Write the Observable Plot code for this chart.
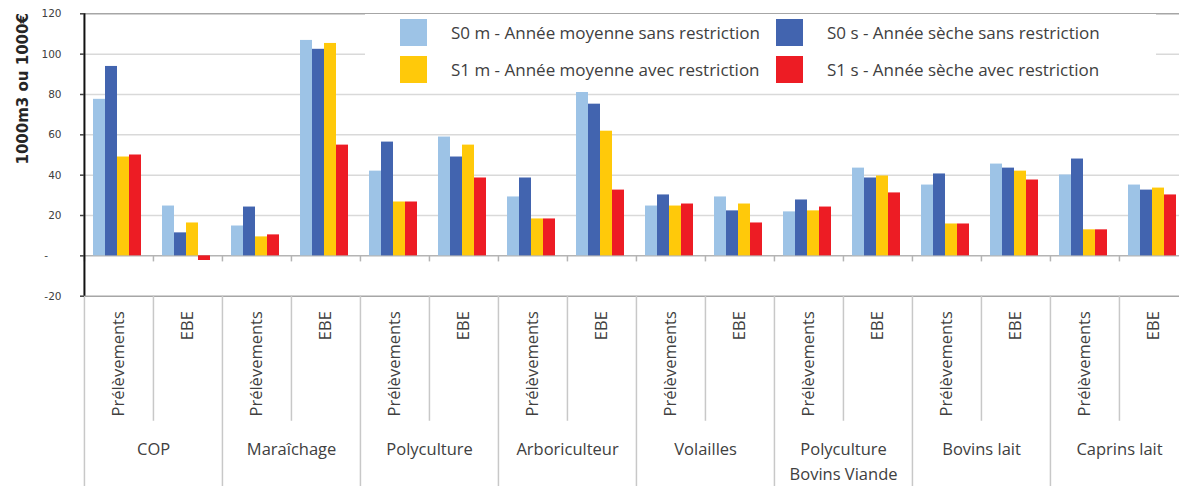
<!DOCTYPE html>
<html><head><meta charset="utf-8">
<script src="https://cdn.jsdelivr.net/npm/d3@7"></script>
<script src="https://cdn.jsdelivr.net/npm/@observablehq/plot@0.6"></script>
<style>
html,body{margin:0;padding:0;background:#fff;overflow:hidden;}
#wrap{position:relative;width:1179px;height:486px;overflow:hidden;}
#chart svg{max-width:none !important;}
#legend{position:absolute;left:365px;top:14px;width:791px;height:78px;background:#fff;font-family:"Open Sans",sans-serif;font-size:17px;color:#404040;}
.item{position:absolute;display:flex;align-items:center;white-space:nowrap;height:27px;}
.sw{width:27px;height:27px;margin-right:24px;flex:none;}
</style></head><body>
<div id="wrap"><div id="chart"></div><div id="legend"></div></div>
<script>
// ---- data ----
const GROUPS = ["COP", "Maraîchage", "Polyculture", "Arboriculteur", "Volailles", "Polyculture\nBovins Viande", "Bovins lait", "Caprins lait"];
const SUBCATS = ["Prélèvements", "EBE"];
const SERIES = ["S0 m", "S0 s", "S1 m", "S1 s"];
const SERIES_LABELS = ["S0 m - Année moyenne sans restriction", "S0 s - Année sèche sans restriction", "S1 m - Année moyenne avec restriction", "S1 s - Année sèche avec restriction"];
const COLORS = ["#9DC3E6", "#4264AF", "#FFC90A", "#ED1C24"];
// values in order: group x (Prélèvements, EBE)
const S0m = [77.6, 24.7, 14.8, 106.8, 42.0, 58.9, 29.2, 82.1, 24.7, 29.2, 21.8, 43.5, 35.1, 45.5, 40.1, 35.1];
const S0s = [93.9, 11.4, 24.2, 102.4, 56.4, 49.0, 38.6, 75.2, 30.2, 22.3, 27.7, 38.6, 40.6, 43.5, 48.0, 32.6];
const S1m = [49.0, 16.3, 9.4, 105.3, 26.7, 54.9, 18.3, 61.8, 24.7, 25.7, 22.3, 39.6, 15.8, 42.0, 12.9, 33.6];
const S1s = [50.0, -2.3, 10.4, 54.9, 26.7, 38.6, 18.3, 32.6, 25.7, 16.3, 24.2, 31.2, 15.8, 37.6, 12.9, 30.2];
const Y_TICKS = [-20, 0, 20, 40, 60, 80, 100, 120];
const Y_TITLE = "1000m3 ou 1000€";

// ---- build table ----
const key = (g, s) => g + "|" + s;
const KEYS = GROUPS.flatMap(g => SUBCATS.map(s => key(g, s)));
const VALUES = [S0m, S0s, S1m, S1s];
const DATA = [];
KEYS.forEach((k, i) => SERIES.forEach((s, j) => DATA.push({key: k, series: s, value: VALUES[j][i]})));
const SUBROWS = KEYS.map(k => ({key: k, group: k.split("|")[0], sub: k.split("|")[1]}));

// ---- layout ----
const W = 1190, H = 486, ML = 83, MR = 1, MT = 13.3, MB = 190.3;
const FW = (W - ML - MR) / KEYS.length;
const TXT = "#404040";

const chart = Plot.plot({
  width: W, height: H,
  marginLeft: ML, marginRight: MR, marginTop: MT, marginBottom: MB,
  fx: {domain: KEYS, padding: 0, axis: null},
  x: {domain: SERIES, paddingInner: 0, paddingOuter: 0.71, align: 0.42, axis: null},
  y: {domain: [-20, 120], axis: null},
  color: {domain: SERIES, range: COLORS},
  style: {fontFamily: "'Open Sans', sans-serif", background: "white", overflow: "visible", maxWidth: "none"},
  marks: [
    Plot.ruleY(Y_TICKS.filter(d => d > 0 && d < 120), {y: d => d, stroke: "#d9d9d9", strokeWidth: 1.5}),
    Plot.ruleY([120], {y: d => d, stroke: "#a6a6a6", strokeWidth: 1.5}),
    Plot.ruleY([-20], {y: d => d, stroke: "#a6a6a6", strokeWidth: 1.5}),
    Plot.ruleY([0], {y: d => d, stroke: "#b4b4b4", strokeWidth: 1.5}),
    // small ticks on the 0 line at category boundaries
    Plot.ruleX(SUBROWS, {fx: "key", x: null, dx: -FW / 2, y1: 0, y2: -3, stroke: "#b4b4b4", strokeWidth: 1.5}),
    // category separators below the axis
    Plot.ruleX(SUBROWS, {fx: "key", x: null, dx: -FW / 2, y1: -20, y2: d => d.sub === SUBCATS[0] ? -150 : -82, stroke: "#c8c8c8", strokeWidth: 1.5}),
    Plot.barY(DATA, {fx: "key", x: "series", y: "value", fill: "series"}),
    // left axis line
    Plot.ruleX([KEYS[0]], {fx: d => d, x: null, dx: -FW / 2, y1: -20, y2: 120, stroke: "#111", strokeWidth: 2}),
    Plot.axisY({ticks: Y_TICKS, label: null, tickFormat: d => d === 0 ? "-\u2007\u2007" : String(d), tickSize: 4, tickPadding: 19,
      fontSize: 10.5, fontFamily: "DejaVu Sans", color: TXT, strokeWidth: 1.5}),
    Plot.text([KEYS[0]], {fx: d => d, frameAnchor: "top-left", text: () => Y_TITLE, dx: -67, dy: 75, rotate: -90,
      textAnchor: "middle", fontWeight: "bold", fontFamily: "DejaVu Sans", fontSize: 15, fill: "#262626"}),
    // sub-category labels
    Plot.text(SUBROWS, {fx: "key", x: null, y: -20, dy: 15, text: "sub", rotate: -90, textAnchor: "end",
      fontSize: 16.5, fill: TXT, style: "letter-spacing:0.85px"}),
    // group labels
    Plot.text(SUBROWS.filter(d => d.sub === SUBCATS[0]), {fx: "key", x: null, y: -20, dy: 141, dx: FW / 2, text: "group",
      lineAnchor: "top", lineHeight: 1.5, fontSize: 16.5, fill: TXT})
  ]
});
document.getElementById("chart").appendChild(chart);

// legend
const legend = document.getElementById("legend");
const POS = [[35, 5], [411, 5], [35, 42], [411, 42]];
SERIES_LABELS.forEach((lab, i) => {
  const it = document.createElement("div");
  it.className = "item";
  it.style.left = POS[i][0] + "px";
  it.style.top = POS[i][1] + "px";
  const sw = document.createElement("div");
  sw.className = "sw";
  sw.style.background = COLORS[i];
  const t = document.createElement("span");
  t.textContent = lab;
  it.appendChild(sw); it.appendChild(t);
  legend.appendChild(it);
});
</script>
</body></html>
